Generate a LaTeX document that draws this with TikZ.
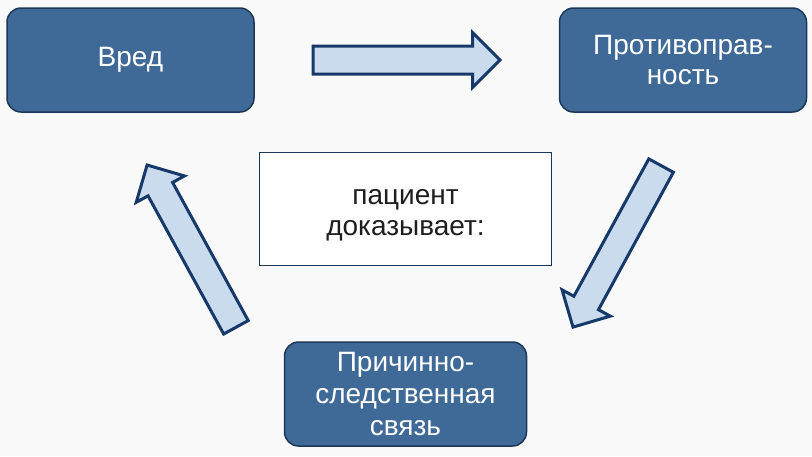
\documentclass[tikz,border=0pt]{standalone}
\usepackage{fontspec}
\setmainfont{Liberation Sans}
\usetikzlibrary{shapes.arrows,positioning}
\definecolor{boxblue}{HTML}{3F6A98}
\definecolor{boxedge}{HTML}{1C3858}
\definecolor{arrowfill}{HTML}{C9DBEC}
\definecolor{arrowedge}{HTML}{16396A}
\definecolor{textdark}{HTML}{1E1E1E}
\definecolor{bggray}{HTML}{F9F9F9}

\begin{document}
\begin{tikzpicture}[
  x=1pt,y=-1pt,
  term/.style={rectangle,rounded corners=14pt,draw=boxedge,line width=1.5pt,fill=boxblue,
               text=white,minimum width=247pt,minimum height=104pt,inner sep=0pt,
               align=center,font=\fontsize{28}{30}\selectfont},
  proof/.style={rectangle,draw=boxedge,line width=1.3pt,fill=white,text=textdark,
                minimum width=292pt,minimum height=113pt,inner sep=0pt,text height=59pt,
                align=center,font=\fontsize{28}{31}\selectfont},
  flow/.style={single arrow,draw=arrowedge,line width=3pt,fill=arrowfill,
               inner xsep=0pt,inner ysep=12.5pt,
               single arrow head extend=13.5pt,single arrow tip angle=90}
]
  \fill[bggray] (0,0) rectangle (812,456);
  \useasboundingbox (0,0) rectangle (812,456);

  \node[term] (harm) at (130.5,60) {Вред};
  \node[term] (unlawful) at (683,60) {Противоправ-\\ность};
  \node[term,minimum width=242pt,font=\fontsize{28}{32}\selectfont] (causal) at (405.5,394) {Причинно-\\следственная\\связь};
  \node[proof] (patient) at (405.5,209) {пациент\\доказывает:};

  \node[flow,minimum height=187pt] (harmToUnlawful) at (399.5,60) {};
  \node[flow,minimum height=184pt,rotate=241.4] (unlawfulToCausal) at (620.4,240.2) {};
  \node[flow,minimum height=185pt,rotate=118.7] (causalToHarm) at (194.9,252.3) {};
\end{tikzpicture}
\end{document}
